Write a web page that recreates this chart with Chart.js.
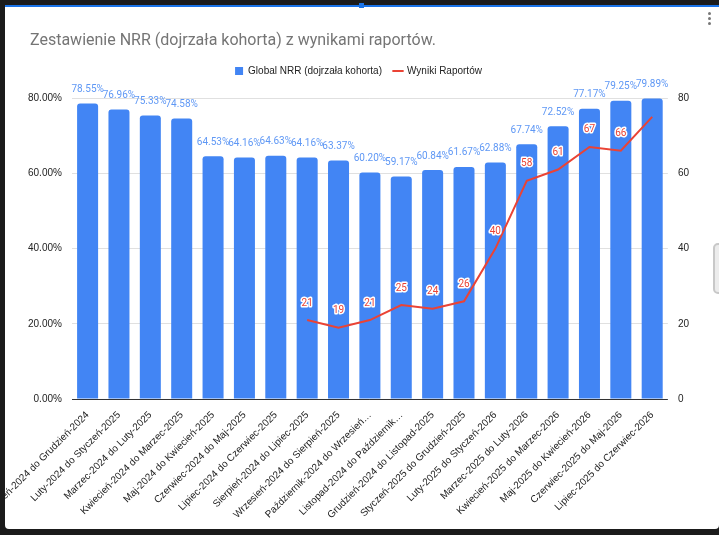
<!DOCTYPE html>
<html>
<head>
<meta charset="utf-8">
<script src="https://cdn.jsdelivr.net/npm/chart.js@4"></script>
<style>
  body { margin: 0; background: #1b1b1b; width: 719px; height: 535px; overflow: hidden; position: relative; }
  #card { position: absolute; left: 5px; top: 6px; width: 714px; height: 523px; background: #fff; border-radius: 0 0 4px 4px; }
  #topline { position: absolute; left: 5px; top: 5px; width: 714px; height: 2px; background: #1a73e8; }
  #handle { position: absolute; left: 359px; top: 3px; width: 5px; height: 5px; background: #1a73e8; }
  #title { position: absolute; left: 25px; top: 24px; font: 16px Roboto, Arial, sans-serif; color: #757575; white-space: nowrap; }
  #menu { position: absolute; left: 703px; top: 6px; width: 4px; }
  #menu span { display: block; width: 3px; height: 3px; border-radius: 50%; background: #777; margin-bottom: 2px; }
  #scroll { position: absolute; left: 713px; top: 243px; width: 12px; height: 47px; border: 2px solid #c8c8c8; background: #ececec; border-radius: 5px; }
  #wrap { position: absolute; left: 0; top: 0; width: 714px; height: 523px; }
</style>
</head>
<body>
<div id="card">
  <div id="wrap"><canvas id="chart"></canvas></div>
  <div id="title">Zestawienie NRR (dojrzała kohorta) z wynikami raportów.</div>
  <div id="menu"><span></span><span></span><span></span></div>
</div>
<div id="topline"></div>
<div id="handle"></div>
<div id="scroll"></div>
<script>
// okresy (kategorie osi X)
const periods = [
    'Styczeń-2024 do Grudzień-2024',
    'Luty-2024 do Styczeń-2025',
    'Marzec-2024 do Luty-2025',
    'Kwiecień-2024 do Marzec-2025',
    'Maj-2024 do Kwiecień-2025',
    'Czerwiec-2024 do Maj-2025',
    'Lipiec-2024 do Czerwiec-2025',
    'Sierpień-2024 do Lipiec-2025',
    'Wrzesień-2024 do Sierpień-2025',
    'Październik-2024 do Wrzesień-2025',
    'Listopad-2024 do Październik-2025',
    'Grudzień-2024 do Listopad-2025',
    'Styczeń-2025 do Grudzień-2025',
    'Luty-2025 do Styczeń-2026',
    'Marzec-2025 do Luty-2026',
    'Kwiecień-2025 do Marzec-2026',
    'Maj-2025 do Kwiecień-2026',
    'Czerwiec-2025 do Maj-2026',
    'Lipiec-2025 do Czerwiec-2026'
];

// Global NRR w %
const nrrValues = [78.55, 76.96, 75.33, 74.58, 64.53, 64.16, 64.63, 64.16, 63.37, 60.20,
                   59.17, 60.84, 61.67, 62.88, 67.74, 72.52, 77.17, 79.25, 79.89];

// Wyniki raportów (brak danych dla pierwszych okresów)
const reportValues = [null, null, null, null, null, null, null, 21, 19, 21,
                      25, 24, 26, 40, 58, 61, 67, 66, 75];

const axisTicks = [0, 20, 40, 60, 80];

const BLUE = '#4285f4';
const RED = '#ea4335';

Chart.defaults.font.family = 'Arial, "Liberation Sans", sans-serif';
Chart.defaults.font.size = 10;
Chart.defaults.color = '#222';

// odstęp między legendą a wykresem
const legendGap = {
    id: 'legendGap',
    beforeInit(chart) {
        const fit = chart.legend.fit;
        chart.legend.fit = function () {
            fit.bind(chart.legend)();
            this.height += 12;
        };
    }
};

// etykiety wartości nad słupkami i punktami linii
const valueLabels = {
    id: 'valueLabels',
    afterDatasetsDraw(chart) {
        const ctx = chart.ctx;
        ctx.save();
        ctx.textAlign = 'center';
        ctx.textBaseline = 'middle';
        ctx.font = '10px Roboto, Arial, sans-serif';

        chart.getDatasetMeta(0).data.forEach((bar, i) => {
            ctx.fillStyle = '#5f98f5';
            ctx.fillText(nrrValues[i].toFixed(2) + '%', bar.x, bar.y - 14);
        });

        chart.getDatasetMeta(1).data.forEach((pt, i) => {
            const v = reportValues[i];
            // ostatni punkt nie ma etykiety w oryginale
            if (v == null || i === reportValues.length - 1) return;
            ctx.lineJoin = 'round';
            ctx.lineWidth = 3;
            ctx.strokeStyle = '#fff';
            ctx.strokeText(String(v), pt.x, pt.y - 17);
            ctx.fillStyle = RED;
            ctx.fillText(String(v), pt.x, pt.y - 17);
        });
        ctx.restore();
    }
};

const ctx = document.getElementById('chart').getContext('2d');
const chart = new Chart(ctx, {
    type: 'bar',
    data: {
        labels: periods,
        datasets: [{
            type: 'bar',
            label: 'Global NRR (dojrzała kohorta)',
            data: nrrValues,
            backgroundColor: BLUE,
            borderWidth: 0,
            borderRadius: { topLeft: 3, topRight: 3 },
            borderSkipped: 'start',
            categoryPercentage: 1,
            barPercentage: 0.67,
            pointStyle: 'rect',
            yAxisID: 'y',
            order: 1
        }, {
            type: 'line',
            label: 'Wyniki Raportów',
            data: reportValues,
            borderColor: RED,
            backgroundColor: RED,
            borderWidth: 2,
            pointRadius: 0,
            pointStyle: 'line',
            tension: 0,
            yAxisID: 'y1',
            order: 0
        }]
    },
    options: {
        responsive: true,
        maintainAspectRatio: false,
        animation: false,
        layout: { padding: { top: 48, left: 13, right: 20, bottom: 6 } },
        plugins: {
            tooltip: { enabled: false },
            legend: {
                position: 'top',
                labels: {
                    usePointStyle: true,
                    boxWidth: 8,
                    boxHeight: 8,
                    padding: 12,
                    color: '#222',
                    font: { size: 10 },
                    sort: (a, b) => a.datasetIndex - b.datasetIndex
                }
            }
        },
        scales: {
            x: {
                grid: { display: false },
                border: { display: false },
                ticks: {
                    autoSkip: false,
                    maxRotation: 45,
                    minRotation: 45,
                    padding: 2,
                    color: '#222',
                    font: { size: 10 },
                    callback(value) {
                        const s = this.getLabelForValue(value);
                        return s.length > 30 ? s.slice(0, 28) + '…' : s;
                    }
                },
                afterFit(scale) {
                    // pierwsza etykieta może wychodzić poza kartę
                    scale.paddingLeft = 0;
                    scale.paddingRight = 0;
                }
            },
            y: {
                position: 'left',
                min: 0,
                max: 80,
                afterBuildTicks(scale) { scale.ticks = axisTicks.map(v => ({ value: v })); },
                grid: {
                    drawTicks: false,
                    color: c => c.tick && c.tick.value === 0 ? '#333' : '#e0e0e0'
                },
                border: { display: false },
                ticks: {
                    padding: 10,
                    color: '#222',
                    font: { size: 10 },
                    callback: v => v.toFixed(2) + '%'
                }
            },
            y1: {
                position: 'right',
                min: 0,
                max: 80,
                afterBuildTicks(scale) { scale.ticks = axisTicks.map(v => ({ value: v })); },
                grid: { display: false, drawTicks: false },
                border: { display: false },
                ticks: {
                    padding: 10,
                    color: '#222',
                    font: { size: 10 }
                }
            }
        }
    },
    plugins: [legendGap, valueLabels]
});
</script>
</body>
</html>
